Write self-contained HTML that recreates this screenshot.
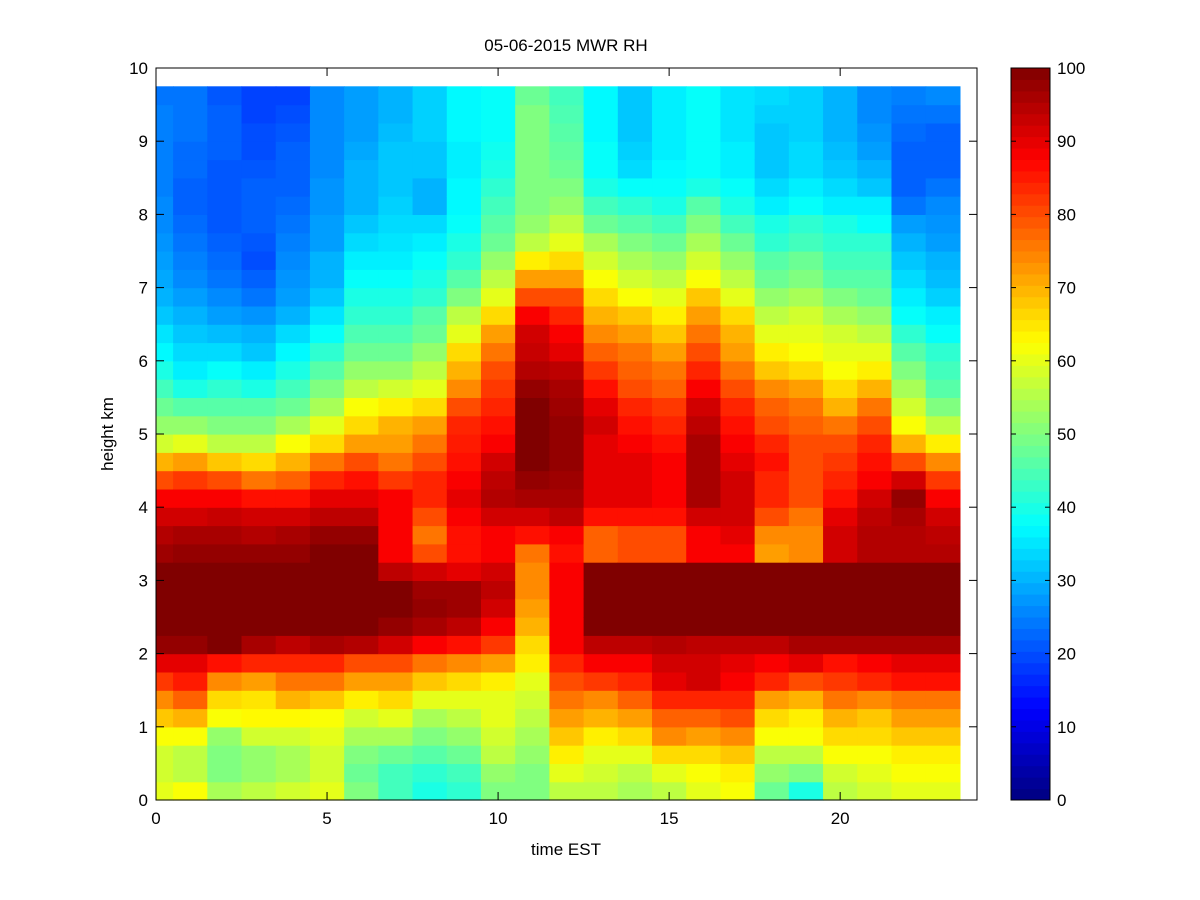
<!DOCTYPE html>
<html><head><meta charset="utf-8"><style>
html,body{margin:0;padding:0;background:#fff;}
svg{display:block;font-family:"Liberation Sans",Arial,sans-serif;}
</style></head><body>
<svg id="chart" width="1200" height="900" viewBox="0 0 1200 900">
<rect width="1200" height="900" fill="#fff"/>
<g id="cells"></g>
<g id="axes"></g>
<g id="cbar"></g>
<text x="566" y="51" font-size="17" text-anchor="middle">05-06-2015 MWR RH</text>
<text x="566" y="855" font-size="17" text-anchor="middle">time EST</text>
<text transform="translate(113,434) rotate(-90)" font-size="17" text-anchor="middle">height km</text>
</svg>
<script>
const hours = [0,1,2,3,4,5,6,7,8,9,10,11,12,13,14,15,16,17,18,19,20,21,22,23];
const rowStep = 0.25;
const xTicks = [0,5,10,15,20];
const yTicks = [0,1,2,3,4,5,6,7,8,9,10];
const cbTicks = [0,10,20,30,40,50,60,70,80,90,100];
// RH profiles per hour, bottom (0 km) to top (9.75 km), 0.25 km rows
const rh0=[60,58,58,62,68,74,82,90,98,100,100,100,100,97,95,92,88,80,70,58,52,48,44,40,37,35,32,30,29,28,27,26,26,25,25,25,25,25,24];
const rh1=[62,56,56,62,70,78,85,90,98,100,100,100,100,98,96,92,88,82,72,60,52,46,40,36,34,32,30,28,26,25,24,23,22,22,23,23,24,24,24];
const rh2=[54,50,50,52,62,66,74,86,100,100,100,100,100,98,96,93,88,80,68,56,50,46,42,38,34,31,28,26,24,23,22,21,21,21,21,22,22,22,21];
const rh3=[56,52,52,58,63,65,72,84,96,100,100,100,100,98,95,92,86,76,66,56,50,46,40,36,32,30,27,24,22,20,21,22,22,22,21,20,20,19,19];
const rh4=[58,54,54,58,63,70,76,84,94,100,100,100,100,98,96,92,86,78,70,62,54,48,44,40,37,34,30,28,27,26,25,24,23,22,22,22,21,20,19];
const rh5=[60,58,58,60,62,68,76,84,96,100,100,100,100,100,98,94,90,84,76,66,60,54,50,46,42,38,35,32,30,30,28,28,27,27,26,26,26,26,26];
const rh6=[50,48,50,54,58,64,72,80,95,100,100,100,100,100,98,94,90,86,80,72,66,62,56,52,48,45,42,40,38,36,34,32,30,30,30,29,28,28,28];
const rh7=[44,44,48,54,60,66,72,80,92,98,100,100,94,88,88,88,88,82,76,72,70,64,58,52,48,45,42,40,38,36,35,34,33,32,32,32,31,30,30];
const rh8=[40,42,46,50,54,60,68,76,88,96,98,97,92,80,76,80,84,84,80,76,72,66,60,56,52,48,46,42,40,38,36,34,30,30,32,32,33,33,33];
const rh9=[42,44,48,52,56,60,66,74,86,94,97,97,90,86,86,88,90,88,86,85,84,80,74,70,66,60,56,50,46,42,40,38,37,37,36,36,37,37,37];
const rh10=[50,52,56,58,60,60,64,72,82,88,92,94,92,88,88,92,95,94,92,88,86,84,82,80,76,72,66,60,56,52,48,46,44,42,40,39,38,38,38];
const rh11=[50,50,52,54,56,58,60,64,66,70,72,74,74,76,86,92,96,98,100,100,100,100,98,95,93,92,88,80,72,64,56,52,50,50,50,50,50,50,48];
const rh12=[56,60,64,68,72,76,80,84,88,88,88,88,88,86,88,94,96,97,98,98,98,97,96,94,90,88,84,80,72,66,60,56,52,50,48,47,46,45,44];
const rh13=[56,58,60,64,70,74,82,88,94,100,100,100,100,78,78,86,90,90,90,90,92,90,86,82,78,74,70,66,62,58,54,48,44,40,38,38,37,37,37];
const rh14=[54,56,60,66,72,78,84,88,94,100,100,100,100,80,80,86,90,90,90,88,86,84,80,78,76,72,68,62,58,54,50,46,42,38,34,33,32,32,32];
const rh15=[56,60,66,74,78,84,90,92,95,100,100,100,100,80,80,86,88,88,88,86,84,82,78,76,72,68,64,60,56,52,48,44,40,38,37,36,36,36,36];
const rh16=[60,62,66,72,78,84,92,92,94,100,100,100,100,88,88,92,96,96,96,96,94,92,88,84,80,76,72,68,62,58,54,50,46,40,38,38,38,38,38];
const rh17=[62,64,68,74,80,84,88,90,94,100,100,100,100,88,90,92,92,92,90,88,86,84,80,76,72,70,66,60,56,52,48,44,40,38,36,36,35,35,35];
const rh18=[48,52,56,62,66,72,84,88,94,100,100,100,100,72,74,80,84,84,86,84,80,78,74,68,64,60,56,52,48,46,42,40,36,34,32,32,32,33,34];
const rh19=[40,50,56,62,64,70,80,90,96,100,100,100,100,74,74,76,80,80,80,80,78,76,72,66,62,60,58,54,50,48,44,42,38,36,34,34,33,33,33];
const rh20=[56,58,62,66,70,76,82,86,96,100,100,100,100,92,92,90,86,84,82,80,76,70,66,62,60,58,54,50,46,44,42,40,36,34,32,31,30,30,30];
const rh21=[58,60,62,66,68,74,84,88,96,100,100,100,100,95,95,94,92,88,86,84,80,76,70,64,60,56,52,48,46,44,42,38,36,32,30,28,27,26,26];
const rh22=[60,62,64,68,72,76,86,90,96,100,100,100,100,95,95,96,98,92,80,70,62,58,54,50,46,42,38,36,34,32,30,28,24,22,22,22,23,24,25];
const rh23=[60,62,64,68,72,76,86,90,96,100,100,100,100,95,94,92,88,82,74,64,56,50,46,44,42,38,36,33,31,30,28,27,26,24,22,22,22,24,26];
const profiles=[rh0,rh1,rh2,rh3,rh4,rh5,rh6,rh7,rh8,rh9,rh10,rh11,rh12,rh13,rh14,rh15,rh16,rh17,rh18,rh19,rh20,rh21,rh22,rh23];

const NS="http://www.w3.org/2000/svg";
const X0=156,X1=977,Y0=800,Y1=68;
const xs=t=>X0+(t-0)*(X1-X0)/24;
const ys=h=>Y0-(h-0)*(Y0-Y1)/10;
function jet(v){
  let t=Math.max(0,Math.min(1,v/100));
  const f=(x)=>Math.max(0,Math.min(1,x));
  const r=f(Math.min(4*t-1.5,-4*t+4.5));
  const g=f(Math.min(4*t-0.5,-4*t+3.5));
  const b=f(Math.min(4*t+0.5,-4*t+2.5));
  return `rgb(${Math.round(r*255)},${Math.round(g*255)},${Math.round(b*255)})`;
}
function el(tag,attrs,parent){const e=document.createElementNS(NS,tag);for(const k in attrs)e.setAttribute(k,attrs[k]);parent.appendChild(e);return e;}
const cells=document.getElementById('cells');
hours.forEach((hr,ci)=>{
  const lo=Math.max(0,hr-0.5), hi=Math.min(hr+0.5,23.5);
  const col=profiles[ci];
  col.forEach((v,ri)=>{
    const h0=ri*rowStep,h1=(ri+1)*rowStep;
    const r=el('rect',{x:xs(lo),y:ys(h1),width:xs(hi)-xs(lo)+0.6,height:ys(h0)-ys(h1)+0.6,fill:jet(v)},cells);
    
    
  });
});
const ax=document.getElementById('axes');
const box=el('rect',{x:X0,y:Y1,width:X1-X0,height:Y0-Y1,fill:'none',stroke:'#000','stroke-width':1},ax);


xTicks.forEach(t=>{
  const x=xs(t);
  el('line',{x1:x,y1:Y0,x2:x,y2:Y0-8,stroke:'#000'},ax);
  el('line',{x1:x,y1:Y1,x2:x,y2:Y1+8,stroke:'#000'},ax);
  const tx=el('text',{x:x,y:Y0+24,'font-size':17,'text-anchor':'middle'},ax);
  tx.textContent=t;
  
  
});
yTicks.forEach(t=>{
  const y=ys(t);
  el('line',{x1:X0,y1:y,x2:X0+8,y2:y,stroke:'#000'},ax);
  el('line',{x1:X1,y1:y,x2:X1-8,y2:y,stroke:'#000'},ax);
  const tx=el('text',{x:X0-8,y:y+6,'font-size':17,'text-anchor':'end'},ax);
  tx.textContent=t;
  
  
});
const cb=document.getElementById('cbar');
const CX0=1011,CX1=1050;
for(let i=0;i<64;i++){
  const v=(i+0.5)/64*100;
  const yA=Y0-(i+1)*(Y0-Y1)/64, yB=Y0-i*(Y0-Y1)/64;
  const r=el('rect',{x:CX0,y:yA,width:CX1-CX0,height:yB-yA+0.5,fill:jet(v)},cb);
  
  
}
el('rect',{x:CX0,y:Y1,width:CX1-CX0,height:Y0-Y1,fill:'none',stroke:'#000'},cb);
cbTicks.forEach(t=>{
  const y=Y0-t/100*(Y0-Y1);
  el('line',{x1:CX0,y1:y,x2:CX0+5,y2:y,stroke:'#000'},cb);
  el('line',{x1:CX1,y1:y,x2:CX1-5,y2:y,stroke:'#000'},cb);
  const tx=el('text',{x:CX1+7,y:y+6,'font-size':17},cb);
  tx.textContent=t;
  
  
});
</script>
</body></html>
